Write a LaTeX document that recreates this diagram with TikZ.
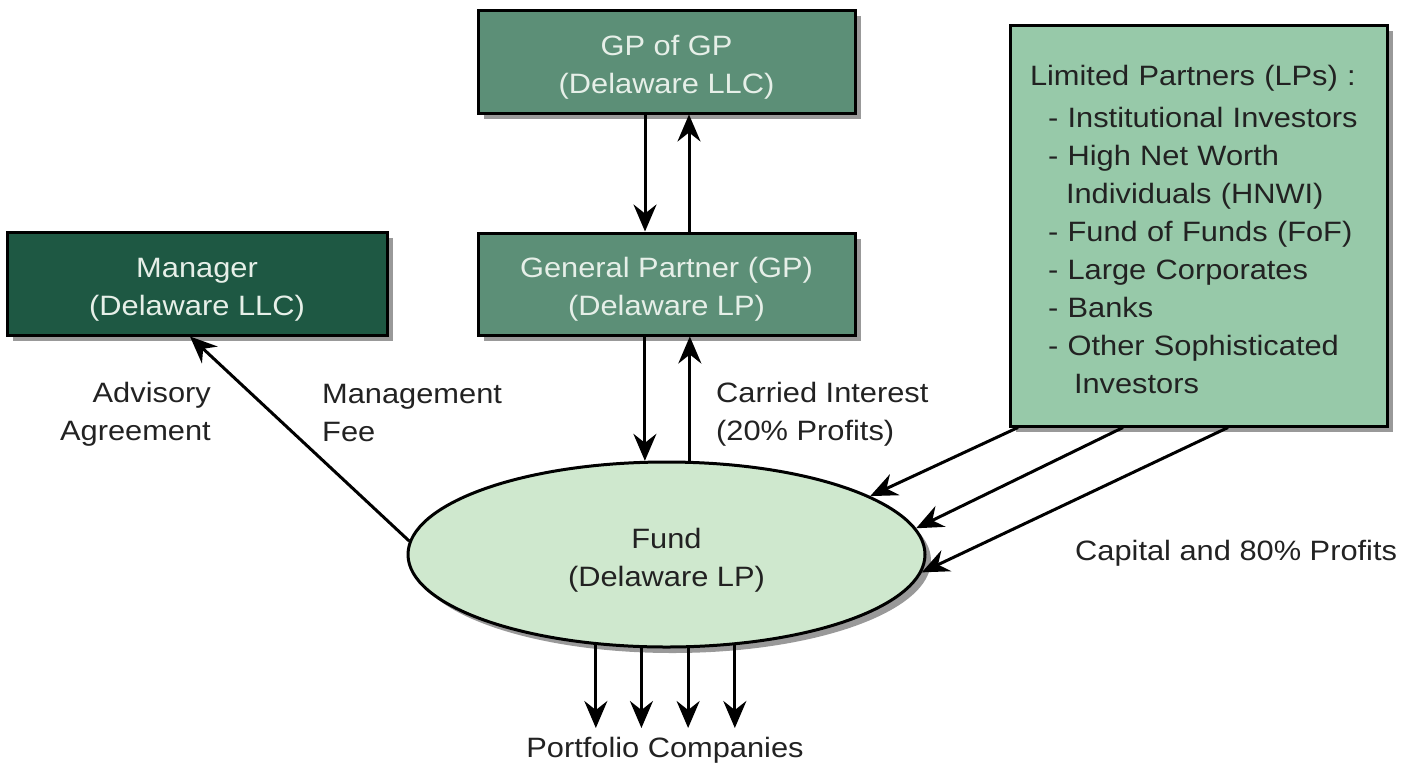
\documentclass[tikz,border=0pt]{standalone}
\usepackage{fontspec}
\setmainfont[FakeStretch=1.1]{Liberation Sans}
\usetikzlibrary{arrows.meta,shapes.geometric,shadows}
\definecolor{gpgreen}{HTML}{5C8F77}
\definecolor{mgrgreen}{HTML}{1E5843}
\definecolor{lpgreen}{HTML}{97C9A9}
\definecolor{fundgreen}{HTML}{CFE8CE}
\definecolor{lighttext}{HTML}{E6EFE8}
\definecolor{darktext}{HTML}{222222}
% extra room above the first line of a box label
\newcommand\toproom[1]{\rule{0pt}{#1}}
\begin{document}
\begin{tikzpicture}[x=1pt,y=-1pt,
  txt/.style={font=\fontsize{28}{38}\selectfont, text=darktext},
  shade box/.style={drop shadow={shadow xshift=6pt, shadow yshift=-6pt, fill=black!40, opacity=1}},
  entity/.style={txt, shade box, draw=black, line width=3pt, rectangle, align=center, inner sep=0pt},
  label/.style={txt, inner sep=0pt},
  arr/.style={line width=3pt, -{Stealth[length=27pt,width=23pt,inset=9pt]}}
]
\useasboundingbox (0,0) rectangle (1421,769);

% entities
\node[entity, fill=gpgreen, text=lighttext, minimum width=377pt, minimum height=103pt]
  (gpgp) at (666.5,61.5) {\toproom{31pt}GP of GP\\(Delaware LLC)};
\node[entity, fill=gpgreen, text=lighttext, minimum width=377pt, minimum height=102pt]
  (gp) at (666.5,284) {\toproom{31pt}General Partner (GP)\\(Delaware LP)};
\node[entity, fill=mgrgreen, text=lighttext, minimum width=380pt, minimum height=103pt]
  (manager) at (197,283.5) {\toproom{31pt}Manager\\(Delaware LLC)};
\node[entity, fill=lpgreen, align=left, text width=337pt, minimum width=377pt, minimum height=401pt]
  (lp) at (1198.5,225.5) {\toproom{28pt}Limited Partners (LPs) :\\[4pt]
  \hspace*{18pt}- Institutional Investors\\
  \hspace*{18pt}- High Net Worth\\
  \hspace*{36pt}Individuals (HNWI)\\
  \hspace*{18pt}- Fund of Funds (FoF)\\
  \hspace*{18pt}- Large Corporates\\
  \hspace*{18pt}- Banks\\
  \hspace*{18pt}- Other Sophisticated\\
  \hspace*{44pt}Investors};
\node[txt, shade box, ellipse, draw=black, line width=3pt, fill=fundgreen, align=center,
  minimum width=517pt, minimum height=185pt, inner sep=0pt]
  (fund) at (666.5,554.5) {\toproom{31pt}Fund\\(Delaware LP)};

% labels
\node[label, align=right, anchor=east] (adv) at (211,414) {Advisory\\Agreement};
\node[label, align=left, anchor=west] (fee) at (322,413) {Management\\Fee};
\node[label, align=left, anchor=west] (carry) at (716,414) {Carried Interest\\(20\% Profits)};
\node[label, anchor=west] (cap) at (1075,553) {Capital and 80\% Profits};
\node[label] (pc) at (665,750) {Portfolio Companies};

% GP of GP <-> GP
\draw[arr] ([xshift=-21.5pt]gpgp.south) -- ([xshift=-21.5pt]gp.north);
\draw[arr] ([xshift=22.5pt]gp.north) -- ([xshift=22.5pt]gpgp.south);

% GP <-> Fund
\draw[arr] (fund.103 |- gp.south) -- (fund.103);
\draw[arr] (fund.76) -- (fund.76 |- gp.south);

% Fund -> Manager
\draw[arr] (fund.177) -- ([xshift=-7pt]manager.south);

% LPs -> Fund
\draw[arr] ([xshift=-180.5pt]lp.south) -- (fund.16);
\draw[arr] ([xshift=-75.5pt]lp.south) -- (fund.6);
\draw[arr] ([xshift=29.5pt]lp.south) -- (fund.356);

% Fund -> portfolio companies
\coordinate (pcend) at (0,728);
\foreach \a in {232,255.7,283.7,307.5}
  \draw[arr] (fund.\a) -- (fund.\a |- pcend);
\end{tikzpicture}
\end{document}
